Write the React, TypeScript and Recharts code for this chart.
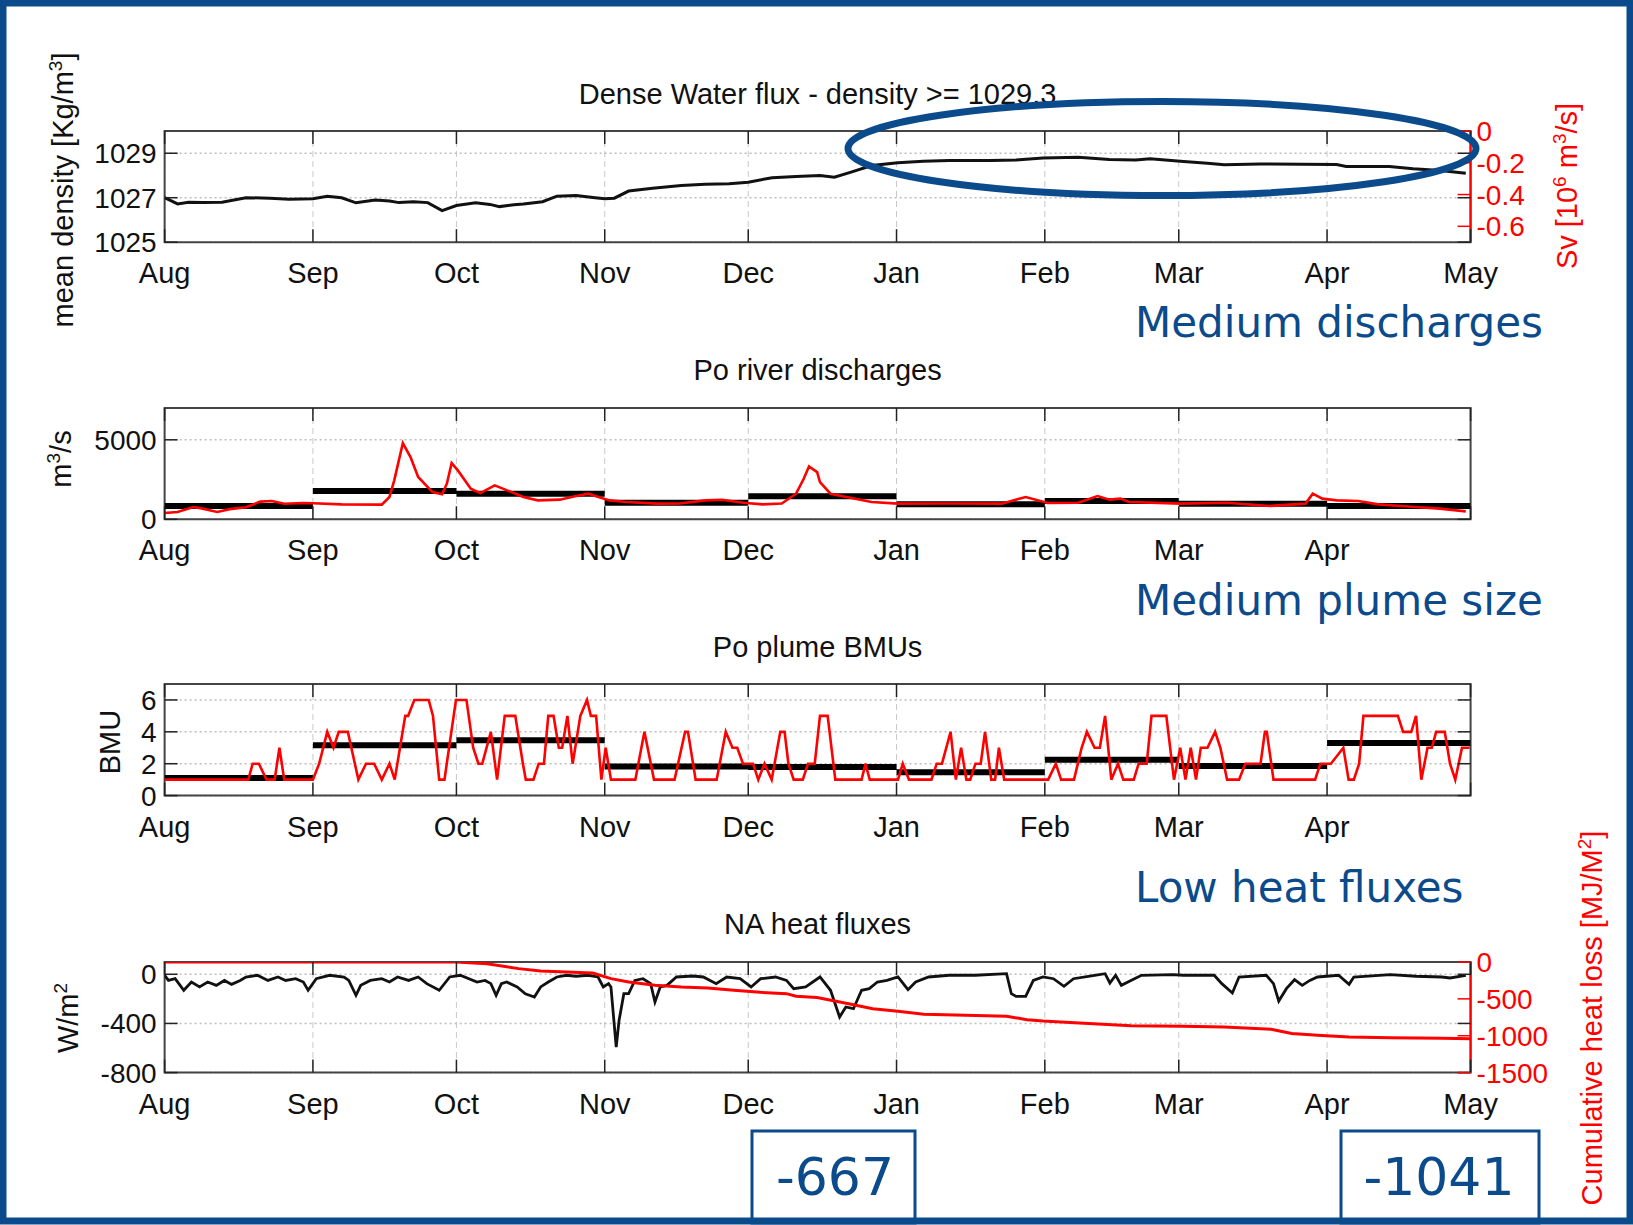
import React from "react"
import { ComposedChart, Line, XAxis, YAxis, CartesianGrid, ReferenceArea } from "recharts"

// x axis = days since 1 Aug
const monthLabels = ["Aug", "Sep", "Oct", "Nov", "Dec", "Jan", "Feb", "Mar", "Apr", "May"]
const monthStarts = [0, 31, 61, 92, 122, 153, 184, 212, 243, 273]

// Dense Water flux
const densityTicks = [1025, 1027, 1029]
const svTicks = [0, -0.2, -0.4, -0.6]
const density: [number, number][] = [
  [0, 1027.0], [2.7, 1026.72], [5, 1026.8], [8, 1026.78], [12, 1026.8], [17, 1027.0], [22, 1026.98],
  [26, 1026.93], [31, 1026.95], [34, 1027.07], [37, 1027.0], [40, 1026.77], [44, 1026.9], [47, 1026.85],
  [49, 1026.78], [52, 1026.82], [55, 1026.78], [58, 1026.42], [61, 1026.65], [65, 1026.77], [68, 1026.7],
  [70, 1026.6], [73, 1026.68], [75, 1026.72], [79, 1026.82], [82, 1027.07], [86, 1027.1], [90, 1027.0],
  [92, 1026.95], [94, 1026.98], [97, 1027.3], [102, 1027.43], [108, 1027.55], [113, 1027.6], [118, 1027.63],
  [122, 1027.7], [127, 1027.9], [132, 1027.95], [137, 1028.0], [140, 1027.92], [143.5, 1028.15],
  [147.8, 1028.45], [153.3, 1028.57], [158.6, 1028.64], [164, 1028.67], [172.7, 1028.67], [178, 1028.7],
  [183.6, 1028.79], [191, 1028.82], [197.5, 1028.72], [203, 1028.7], [206, 1028.75], [213, 1028.63],
  [218, 1028.55], [221.5, 1028.48], [229, 1028.52], [237.6, 1028.5], [245, 1028.49], [247, 1028.4],
  [256, 1028.4], [261, 1028.3], [266.7, 1028.22], [272, 1028.1],
]

// Po river discharges
const dischargeTicks = [0, 5000]
const discharge: [number, number][] = [
  [0, 400], [2.7, 460], [6, 770], [8, 670], [11, 460], [13.6, 640], [17, 760], [20, 1110], [22.4, 1150],
  [25, 980], [29, 1025], [31, 1010], [37, 940], [45.4, 920], [47, 1400], [48, 2450], [49.8, 4790],
  [51.4, 3910], [53, 2660], [56, 1715], [58, 1570], [59, 2240], [60, 3535], [61.3, 3075], [64, 1925],
  [66, 1650], [69, 2135], [71.6, 1820], [75, 1400], [78, 1190], [82.6, 1235], [85.8, 1445], [88.6, 1610],
  [90.7, 1400], [93, 1190], [96.6, 1090], [103, 985], [107.7, 990], [113, 1190], [116.5, 1230], [121, 1045],
  [125, 940], [129, 990], [132, 1610], [133.6, 2550], [134.7, 3325], [136.4, 2970], [137, 2340],
  [139.2, 1610], [142.5, 1400], [147.8, 1090], [153.3, 985], [164, 990], [175, 985], [177, 1150],
  [180, 1400], [184.6, 1025], [191, 1045], [195, 1465], [197.5, 1235], [199.8, 1300], [201.6, 1090],
  [212.5, 985], [222, 1045], [231, 840], [238.5, 985], [240, 1610], [242, 1300], [245, 1190],
  [249.5, 1150], [253.7, 940], [261.4, 775], [266.6, 670], [272, 500],
]
const dischargeMonthly = [830, 1780, 1610, 1045, 1445, 940, 1150, 985, 840]

// Po plume BMUs
const bmuTicks = [0, 2, 4, 6]
const bmu: [number, number][] = [
  [0, 1], [17.5, 1], [18.4, 2], [19.7, 2], [21.3, 1], [23, 1], [24, 3], [25, 1], [31, 1], [32.3, 2],
  [34, 4], [35.3, 3], [36.4, 4], [38.3, 4], [40.5, 1], [42.1, 2], [43.8, 2], [45.4, 1], [47, 2], [48.1, 1],
  [50.3, 5], [50.9, 5], [52.2, 6], [55.2, 6], [56.1, 5], [57.4, 1], [58.5, 1], [60.9, 6], [63.1, 6],
  [64.5, 3], [65.6, 2], [66.4, 2], [68.2, 4], [69.5, 1], [71.1, 5], [73.3, 5], [74.9, 2], [75.5, 1],
  [77.1, 1], [78.2, 2], [79.3, 2], [80.2, 5], [81.3, 5], [82.4, 3], [83.1, 3], [84.2, 5], [85.3, 2],
  [86.9, 5], [88.3, 6], [89.1, 5], [90.2, 5], [91.3, 1], [92.2, 3], [93.3, 1], [98.4, 1], [100.3, 4],
  [102.3, 1], [106.6, 1], [108.8, 4], [109.4, 4], [111, 1], [115.4, 1], [117.3, 4], [118.7, 3], [119.7, 3],
  [120.9, 2], [123, 2], [124.1, 1], [125.4, 2], [126.9, 1], [128.7, 4], [129.6, 4], [130.4, 2], [131.5, 1],
  [133.4, 1], [134.5, 2], [135.9, 2], [137, 5], [138.6, 5], [140.2, 1], [145.7, 1], [146.5, 2], [147.4, 1],
  [153.3, 1], [154.3, 2], [155.6, 1], [160.3, 1], [161.4, 2], [162.5, 2], [164.3, 4], [165.4, 1],
  [166.5, 3], [167.6, 1], [168.4, 1], [169.5, 2], [170.6, 2], [171.5, 4], [172.8, 1], [173.6, 1],
  [174.4, 3], [175.5, 1], [184.7, 1], [186.3, 2], [187.4, 1], [190.1, 1], [191.7, 3], [192.8, 4],
  [194.4, 3], [195.5, 3], [196.6, 5], [197.9, 1], [199.3, 2], [200.4, 1], [202.6, 1], [203.6, 2],
  [205.3, 2], [206.3, 5], [209.4, 5], [211, 1], [212.3, 3], [213.4, 1], [214.5, 3], [215.6, 1], [216.6, 3],
  [218, 3], [219.6, 4], [220.7, 3], [222.1, 1], [224.6, 1], [225.9, 2], [229.1, 2], [230, 4], [230.4, 4],
  [231.8, 1], [240.5, 1], [241.6, 2], [243.8, 2], [246.4, 3], [247.5, 1], [248.6, 1], [249.7, 2],
  [250.6, 5], [257.8, 5], [258.9, 4], [260.6, 4], [261.6, 5], [262.7, 1], [264, 3], [264.9, 3],
  [265.8, 4], [267.6, 4], [268.7, 2], [269.8, 1], [271.2, 3], [272.8, 3],
]
const bmuMonthly = [1.1, 3.16, 3.47, 1.83, 1.8, 1.47, 2.25, 1.85, 3.3]

// NA heat fluxes
const heatTicks = [-800, -400, 0]
const cumTicks = [-1500, -1000, -500, 0]
const heatFlux: [number, number][] = [
  [0, -8], [0.8, -50], [2.2, -36], [4, -130], [5.6, -63], [7.3, -103], [9, -63], [10.8, -90], [12.5, -50],
  [14, -82], [15.8, -50], [17, -22], [19.4, -8], [21.6, -50], [23.7, -22], [25.3, -50], [27.4, -36],
  [29, -63], [30, -130], [31.7, -36], [34.5, -8], [37.5, -22], [38.5, -50], [40, -171], [41, -90],
  [43, -50], [45.4, -36], [47, -63], [48.7, -22], [51, -50], [53, -22], [54.8, -76], [57.4, -130],
  [59.6, -22], [61.8, -8], [65.3, -63], [67, -50], [68.2, -76], [69.3, -171], [70.4, -76], [71.5, -63],
  [73.7, -103], [75.4, -158], [77.3, -185], [78.6, -103], [80.2, -63], [82, -22], [84, -8], [86, -16],
  [88.5, -8], [90.6, -22], [91.7, -103], [92.8, -76], [93.3, -103], [94.4, -593], [95, -375], [96, -158],
  [97, -158], [98.3, -50], [100, -36], [101.6, -76], [102.5, -226], [103.6, -103], [105, -90], [107, -22],
  [110.4, -14], [112.6, -22], [115.3, -76], [117.5, -22], [120.3, -36], [122.6, -103], [124.6, -36],
  [127.7, -22], [130, -50], [131.5, -117], [134, -103], [137, -22], [139.2, -130], [141.1, -348],
  [142.4, -266], [144, -280], [145.7, -130], [147.3, -117], [149, -63], [151, -50], [153.3, -22],
  [155.4, -125], [157, -63], [159.7, -22], [164, -8], [169.5, -8], [176, 5], [177, -158], [178, -180],
  [180, -180], [181.6, -50], [183.6, -22], [185.8, -36], [188, -98], [190, -36], [194.4, -8], [196.6, 5],
  [197.6, -71], [198.8, -8], [200, -90], [202, -50], [204.2, -8], [210.7, -3], [212.9, -8], [219.4, -8],
  [221, -76], [223.2, -152], [224.6, -22], [230.3, -8], [231.8, -76], [232.9, -218], [234.5, -117],
  [236.2, -44], [237.8, -90], [239.4, -50], [241, -22], [245.4, -8], [247.6, -82], [248.6, -22],
  [256.2, -3], [261.6, -16], [267, -22], [268.7, -30], [272, -8],
]
const cumulativeLoss: [number, number][] = [
  [0, 0], [61, 0], [67.4, -23], [74, -90], [78.6, -122], [84, -136], [89.5, -149], [93.3, -226],
  [97, -271], [102.5, -316], [108, -339], [113.5, -352], [119, -384], [124.5, -411], [130, -429],
  [132, -465], [136.4, -483], [143.5, -574], [148, -633], [153.3, -667], [158.7, -709], [167.4, -723],
  [176, -736], [180.3, -782], [183.6, -800], [191.2, -827], [202, -863], [212.9, -872], [221.5, -881],
  [231.3, -913], [235.6, -971], [241, -994], [247.6, -1017], [256.2, -1026], [267, -1035], [273, -1041],
]
const boxValues = ["-667", "-1041"]

const W = 1633
const PLOT_L = 164.6
const PLOT_R = 1470.6
const BLUE = "#0b4a8b"
const RED = "#ff0000"
const AXIS_FONT = "'Liberation Sans', Arial, Helvetica, sans-serif"
const NOTE_FONT = "'DejaVu Sans', Verdana, sans-serif"

const toRows = (pairs: [number, number][]) => pairs.map(([d, v]) => ({ d, v }))
const monthlySteps = (means: number[]) =>
  means.flatMap((m, i) => [
    { d: monthStarts[i], v: m },
    { d: monthStarts[i + 1], v: m },
    { d: monthStarts[i + 1], v: null },
  ])

const fmt = (v: number) => String(v)

const makeXTick = (plotH: number, showMay: boolean) => (props: any) => {
  const { x, y, payload } = props
  const label = monthLabels[monthStarts.indexOf(payload.value)]
  const show = showMay || payload.value !== 273
  return (
    <g>
      <line x1={x} y1={y} x2={x} y2={y - 13} stroke="#222" strokeWidth={1.5} />
      <line x1={x} y1={y - plotH} x2={x} y2={y - plotH + 13} stroke="#222" strokeWidth={1.5} />
      {show && (
        <text x={x} y={y + 41} textAnchor="middle" fontSize={29} fontFamily={AXIS_FONT} fill="#111">
          {label}
        </text>
      )}
    </g>
  )
}

const makeLeftTick = (plotW: number) => (props: any) => {
  const { x, y, payload } = props
  return (
    <g>
      <line x1={x} y1={y} x2={x + 13} y2={y} stroke="#222" strokeWidth={1.5} />
      <line x1={x + plotW - 13} y1={y} x2={x + plotW} y2={y} stroke="#222" strokeWidth={1.5} />
      <text x={x - 8} y={y + 10} textAnchor="end" fontSize={28} fontFamily={AXIS_FONT} fill="#111">
        {fmt(payload.value)}
      </text>
    </g>
  )
}

const rightTick = (props: any) => {
  const { x, y, payload } = props
  return (
    <g>
      <line x1={x - 13} y1={y} x2={x} y2={y} stroke={RED} strokeWidth={1.5} />
      <text x={x + 6} y={y + 10} textAnchor="start" fontSize={28} fontFamily={AXIS_FONT} fill={RED}>
        {fmt(payload.value)}
      </text>
    </g>
  )
}

type AxisDef = { domain: [number, number]; ticks: number[] }

function Panel({ top, bottom, left, right, showMay, children }: {
  top: number; bottom: number; left: AxisDef; right?: AxisDef; showMay: boolean; children: React.ReactNode
}) {
  const plotH = bottom - top
  const plotW = PLOT_R - PLOT_L
  return (
    <div style={{ position: "absolute", left: 0, top: top - 30 }}>
      <ComposedChart
        width={W}
        height={plotH + 90}
        margin={{ top: 30, bottom: 20, left: PLOT_L - 60, right: right ? W - PLOT_R - 60 : W - PLOT_R }}
      >
        <CartesianGrid yAxisId="left" horizontal={false} stroke="#c8c8c8" strokeDasharray="6 4" />
        <CartesianGrid yAxisId="left" vertical={false} stroke="#bdbdbd" strokeDasharray="2 3" strokeWidth={1.5} />
        <XAxis
          dataKey="d" type="number" domain={[0, 273]} ticks={monthStarts} interval={0} height={40}
          tickSize={0} tickMargin={0} axisLine={false} tick={makeXTick(plotH, showMay)} allowDataOverflow
        />
        <YAxis
          yAxisId="left" type="number" domain={left.domain} ticks={left.ticks} interval={0} width={60}
          tickSize={0} tickMargin={0} axisLine={false} tick={makeLeftTick(plotW)} allowDataOverflow
        />
        {right && (
          <YAxis
            yAxisId="right" orientation="right" type="number" domain={right.domain} ticks={right.ticks}
            interval={0} width={60} tickSize={0} tickMargin={0} axisLine={{ stroke: RED, strokeWidth: 2 }}
            tick={rightTick} allowDataOverflow
          />
        )}
        <ReferenceArea
          yAxisId="left" x1={0} x2={273} y1={left.domain[0]} y2={left.domain[1]}
          fill="none" stroke="#444" strokeWidth={2} ifOverflow="visible"
        />
        {children}
      </ComposedChart>
    </div>
  )
}

// superscript, then the rest of the label back on the baseline
const Sup = ({ s, after }: { s: string; after?: string }) => (
  <>
    <tspan dy={-11} fontSize={19}>{s}</tspan>
    {after && <tspan dy={11}>{after}</tspan>}
  </>
)

function Overlay() {
  const labelStyle = { fontSize: 29, fontFamily: AXIS_FONT }
  return (
    <svg width={W} height={1225} style={{ position: "absolute", left: 0, top: 0, pointerEvents: "none" }}>
      {/* titles */}
      <g fontSize={29} fontFamily={AXIS_FONT} fill="#111" textAnchor="middle">
        <text x={817.6} y={104}>Dense Water flux - density &gt;= 1029.3</text>
        <text x={817.6} y={380}>Po river discharges</text>
        <text x={817.6} y={657}>Po plume BMUs</text>
        <text x={817.6} y={934}>NA heat fluxes</text>
      </g>
      {/* axis labels */}
      <text transform="translate(73,190) rotate(-90)" textAnchor="middle" fill="#111" {...labelStyle}>
        mean density [Kg/m<Sup s="3" after="]" />
      </text>
      <text transform="translate(1577,186) rotate(-90)" textAnchor="middle" fill={RED} {...labelStyle}>
        Sv [10<Sup s="6" after=" m" /><Sup s="3" after="/s]" />
      </text>
      <text transform="translate(70.6,459) rotate(-90)" textAnchor="middle" fill="#111" {...labelStyle}>
        m<Sup s="3" after="/s" />
      </text>
      <text transform="translate(120,742) rotate(-90)" textAnchor="middle" fill="#111" {...labelStyle}>
        BMU
      </text>
      <text transform="translate(78,1018) rotate(-90)" textAnchor="middle" fill="#111" {...labelStyle}>
        W/m<Sup s="2" />
      </text>
      <text transform="translate(1602,1018) rotate(-90)" textAnchor="middle" fill={RED} {...labelStyle}>
        Cumulative heat loss [MJ/M<Sup s="2" after="]" />
      </text>
      {/* highlight */}
      <ellipse cx={1162} cy={148.5} rx={314} ry={47} fill="none" stroke={BLUE} strokeWidth={7} />
      {/* annotations */}
      <g fontSize={42} fontFamily={NOTE_FONT} fill={BLUE}>
        <text x={1135} y={337}>Medium discharges</text>
        <text x={1135} y={615}>Medium plume size</text>
        <text x={1135} y={902}>Low heat fluxes</text>
      </g>
      <rect x={752} y={1131} width={163} height={92} fill="#fff" stroke={BLUE} strokeWidth={3} />
      <rect x={1341} y={1131} width={198} height={92} fill="#fff" stroke={BLUE} strokeWidth={3} />
      <g fontSize={52} fontFamily={NOTE_FONT} fill={BLUE} textAnchor="middle">
        <text x={835} y={1195}>{boxValues[0]}</text>
        <text x={1439} y={1195}>{boxValues[1]}</text>
      </g>
      {/* frame */}
      <rect x={3} y={3} width={1627} height={1218} fill="none" stroke={BLUE} strokeWidth={7} />
    </svg>
  )
}

export default function App() {
  return (
    <div style={{ position: "absolute", left: 0, top: 0, width: W, height: 1225, background: "#fff", overflow: "hidden" }}>
      <Panel top={130.5} bottom={241.7} left={{ domain: [1025, 1030], ticks: densityTicks }}
        right={{ domain: [-0.7, 0], ticks: svTicks }} showMay>
        <Line yAxisId="left" data={toRows(density)} dataKey="v" stroke="#111" strokeWidth={3}
          dot={false} isAnimationActive={false} />
      </Panel>
      <Panel top={407.5} bottom={518.8} left={{ domain: [0, 7000], ticks: dischargeTicks }} showMay={false}>
        <Line yAxisId="left" data={monthlySteps(dischargeMonthly)} dataKey="v" stroke="#000" strokeWidth={6}
          dot={false} connectNulls={false} isAnimationActive={false} />
        <Line yAxisId="left" data={toRows(discharge)} dataKey="v" stroke={RED} strokeWidth={2.6}
          dot={false} isAnimationActive={false} />
      </Panel>
      <Panel top={684.2} bottom={795.8} left={{ domain: [0, 7], ticks: bmuTicks }} showMay={false}>
        <Line yAxisId="left" data={monthlySteps(bmuMonthly)} dataKey="v" stroke="#000" strokeWidth={6}
          dot={false} connectNulls={false} isAnimationActive={false} />
        <Line yAxisId="left" data={toRows(bmu)} dataKey="v" stroke={RED} strokeWidth={2.6}
          dot={false} isAnimationActive={false} />
      </Panel>
      <Panel top={961.7} bottom={1072.3} left={{ domain: [-800, 100], ticks: heatTicks }}
        right={{ domain: [-1500, 0], ticks: cumTicks }} showMay>
        <Line yAxisId="left" data={toRows(heatFlux)} dataKey="v" stroke="#111" strokeWidth={2.8}
          dot={false} isAnimationActive={false} />
        <Line yAxisId="right" data={toRows(cumulativeLoss)} dataKey="v" stroke={RED} strokeWidth={3}
          dot={false} isAnimationActive={false} />
      </Panel>
      <Overlay />
    </div>
  )
}
